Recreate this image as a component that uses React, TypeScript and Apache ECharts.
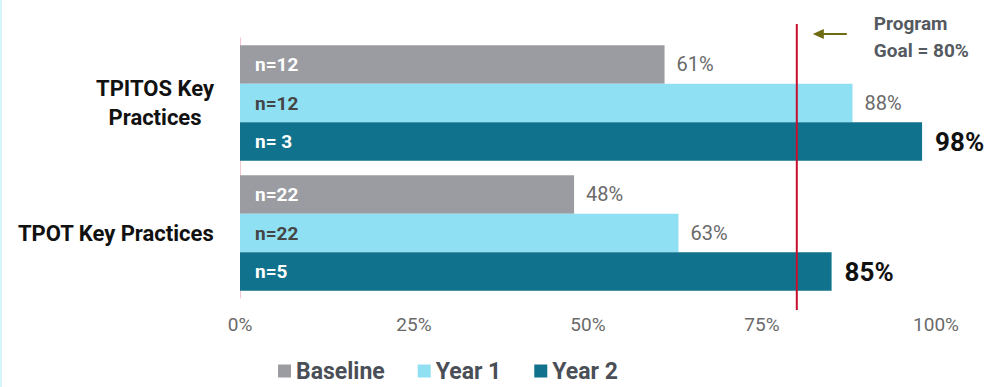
import React, { useEffect, useRef } from "react";
import * as echarts from "echarts";

const categories = ["TPITOS Key\nPractices", "TPOT Key Practices"];
const seriesNames = ["Baseline", "Year 1", "Year 2"];
const baseline = [61, 48];
const year1 = [88, 63];
const year2 = [98, 85];
const nBaseline = ["n=12", "n=22"];
const nYear1 = ["n=12", "n=22"];
const nYear2 = ["n= 3", "n=5"];
const xTicks = [0, 25, 50, 75, 100];
const goal = 80;
const goalText = "Program\nGoal = 80%";

const colors = ["#9a9ca1", "#8fe0f2", "#10728c"];
const FONT = "Roboto";

export default function App() {
  const ref = useRef<HTMLDivElement>(null);
  useEffect(() => {
    const chart = echarts.init(ref.current!, null, { renderer: "svg" });
    const values = [baseline, year1, year2];
    const nLabels = [nBaseline, nYear1, nYear2];
    const mainSeries = values.map((vals, i) => ({
      name: seriesNames[i],
      type: "bar",
      yAxisIndex: 0,
      data: vals,
      barGap: "0%",
      barCategoryGap: "11%",
      itemStyle: { color: colors[i] },
      label: {
        show: true,
        position: "right",
        distance: i === 2 ? 13 : 12,
        formatter: "{c}%",
        fontFamily: FONT,
        fontSize: i === 2 ? 26 : 20,
        fontWeight: i === 2 ? "bold" : "normal",
        color: i === 2 ? "#111111" : "#6a6a6a",
      },
    }));
    const nSeries = values.map((vals, i) => ({
      name: "n_" + seriesNames[i],
      type: "bar",
      yAxisIndex: 1,
      data: vals.map((v, j) => ({ value: v, n: nLabels[i][j] })),
      barGap: "0%",
      barCategoryGap: "11%",
      itemStyle: { color: "rgba(0,0,0,0)" },
      silent: true,
      label: {
        show: true,
        position: "insideLeft",
        distance: 15,
        formatter: (p: any) => p.data.n,
        fontFamily: FONT,
        fontSize: 19,
        fontWeight: "bold",
        color: i === 1 ? "#454545" : "#ffffff",
      },
    }));
    chart.setOption({
      animation: false,
      textStyle: { fontFamily: FONT },
      grid: { left: 240, right: 64, top: 38, bottom: 89, containLabel: false },
      xAxis: {
        type: "value",
        min: 0,
        max: 100,
        interval: 25,
        axisLine: { show: false },
        axisTick: { show: false },
        splitLine: { show: false },
        axisLabel: {
          formatter: (v: number) => (xTicks.includes(v) ? v + "%" : ""),
          fontFamily: FONT,
          fontSize: 19,
          color: "#6a6a6a",
          margin: 17,
        },
      },
      yAxis: [
        {
          type: "category",
          data: categories,
          inverse: true,
          axisLine: { show: true, onZero: false, lineStyle: { color: "#f6c6cf", width: 1 } },
          axisTick: { show: false },
          axisLabel: {
            formatter: (v: string) => v.split("\n").map((s) => "{c|" + s + "}").join("\n"),
            margin: 26,
            align: "right",
            rich: {
              c: {
                fontFamily: FONT,
                fontSize: 22,
                fontWeight: "bold",
                color: "#111111",
                lineHeight: 29,
                align: "center",
              },
            },
          },
        },
        {
          type: "category",
          data: categories,
          inverse: true,
          position: "left",
          show: false,
        },
      ],
      legend: {
        data: seriesNames,
        left: 278,
        top: 358,
        icon: "rect",
        itemWidth: 13,
        itemHeight: 13,
        itemGap: 33,
        padding: 0,
        textStyle: { fontFamily: FONT, fontSize: 23, fontWeight: "bold", color: "#4a4f57", lineHeight: 26 },
      },
      series: [...mainSeries, ...nSeries],
    });
    const gx = chart.convertToPixel({ xAxisIndex: 0 }, goal) as number;
    chart.setOption({
      graphic: [
        { type: "rect", shape: { x: 0, y: 0, width: 2, height: 387 }, style: { fill: "#d6f4fa" } },
        { type: "line", shape: { x1: gx, y1: 24, x2: gx, y2: 310 }, style: { stroke: "#c8102e", lineWidth: 2 }, z: 10 },
        { type: "line", shape: { x1: gx + 24, y1: 34, x2: gx + 50, y2: 34 }, style: { stroke: "#6e6b12", lineWidth: 2 } },
        { type: "polygon", shape: { points: [[gx + 16, 34], [gx + 27, 29], [gx + 27, 39]] }, style: { fill: "#6e6b12" } },
        {
          type: "text",
          x: gx + 77,
          y: 10,
          style: { text: goalText, fontFamily: FONT, fontSize: 19, fontWeight: "bold", fill: "#555a60", lineHeight: 27, align: "left" },
        },
      ],
    });
    return () => chart.dispose();
  }, []);
  return <div ref={ref} style={{ width: 1000, height: 387, position: "absolute", left: 0, top: 0 }} />;
}
